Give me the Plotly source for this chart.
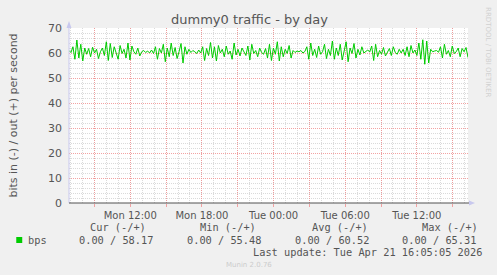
import pandas as pd
import plotly.graph_objects as go

# ---- data ----
bps_out = [
    61.0, 60.2, 62.5, 57.5, 65.2, 58.0, 63.5, 56.8, 62.0, 59.5, 61.8, 58.5, 62.3, 60.0, 61.5, 57.8, 60.5,
    62.0, 59.0, 64.5, 57.0, 63.8, 58.2, 62.5, 60.0, 57.5, 63.0, 59.8, 61.5, 58.0, 64.0, 57.2, 62.8, 60.5,
    59.5, 62.0, 58.8, 60.5, 61.0, 60.2, 60.8, 60.0, 61.2, 59.8, 62.5, 57.5, 61.8, 60.0, 63.5, 56.5, 62.0,
    58.5, 64.0, 59.0, 62.2, 57.8, 60.5, 63.8, 56.0, 62.5, 59.5, 61.5, 60.2, 61.0, 60.5, 59.8, 61.2, 60.0,
    62.5, 57.0, 61.8, 59.0, 64.2, 58.0, 62.5, 56.8, 63.0, 60.0, 61.5, 58.5, 62.8, 59.5, 60.8, 57.5, 64.0,
    59.2, 61.5, 58.8, 62.0, 60.5, 59.0, 62.8, 57.2, 63.5, 59.8, 61.0, 58.5, 62.0, 60.2, 59.5, 61.8, 58.0,
    63.5, 57.0, 62.0, 59.5, 64.5, 56.8, 62.5, 58.5, 61.5, 59.8, 63.0, 58.0, 61.0, 60.2, 60.8, 60.5, 61.0,
    60.0, 60.6, 62.5, 57.5, 64.0, 59.0, 61.5, 58.2, 62.8, 59.5, 60.5, 63.5, 57.8, 61.5, 59.0, 64.8, 57.5,
    62.0, 59.0, 63.5, 57.2, 61.5, 64.5, 56.5, 62.0, 59.8, 63.8, 58.0, 61.5, 59.2, 62.5, 60.0, 60.8, 61.2,
    60.4, 62.8, 57.0, 63.5, 58.5, 61.0, 59.5, 62.2, 58.8, 60.5, 61.8, 59.0, 62.5, 60.2, 59.5, 61.5, 60.0,
    61.5, 59.0, 62.5, 58.5, 63.0, 60.0, 61.2, 59.0, 64.0, 57.5, 65.3, 55.5, 64.8, 56.0, 61.5, 60.5, 60.8,
    61.0, 60.3, 62.5, 58.0, 63.5, 59.5, 61.0, 58.5, 62.8, 59.8, 60.5, 62.0, 58.5, 61.8, 60.5, 62.2, 58.2,
]
range_start = "2026-04-20 06:52"
range_end = "2026-04-21 16:17"
times = pd.date_range(range_start, range_end, periods=len(bps_out))

tick_times = pd.date_range("2026-04-20 09:00", "2026-04-21 15:00", freq="3h")
tick_labels = ["" if t.hour % 6 else t.strftime("%a %H:%M") for t in tick_times]

legend_cols = ["Cur (-/+)", "Min (-/+)", "Avg (-/+)", "Max (-/+)"]
legend_vals = ["0.00 / 58.17", "0.00 / 55.48", "0.00 / 60.52", "0.00 / 65.31"]
header_left = [86, 197, 309, 420]
value_left = [75, 184, 292, 400]
title = "dummy0 traffic - by day"
ylabel = "bits in (-) / out (+) per second"
last_update = "Last update: Tue Apr 21 16:05:05 2026"

# ---- layout geometry ----
W, H = 497, 275
L, R, T, B = 67, 468, 28, 203
def px(x):
    return (x - L) / (R - L)
def py(y):
    return (B - y) / (B - T)

TXT = "#555555"
MAJ = "rgba(240,140,140,0.8)"
MIN = "#DADADA"
fig = go.Figure()
fig.add_trace(go.Scatter(x=times, y=bps_out, mode="lines",
                         line=dict(color="#00CC00", width=1), hoverinfo="skip"))

fig.update_layout(
    width=W, height=H,
    margin=dict(l=L, r=W - R, t=T, b=H - B, pad=0),
    paper_bgcolor="#F0F0F0", plot_bgcolor="#FFFFFF",
    showlegend=False,
    font=dict(family="DejaVu Sans", color=TXT, size=10),
)
fig.update_xaxes(
    type="date", range=[range_start, range_end],
    tickmode="array", tickvals=tick_times, ticktext=tick_labels,
    showgrid=True, gridcolor=MAJ, griddash="1px,1px", gridwidth=1,
    ticks="outside", ticklen=3, tickcolor=MAJ,
    tickfont=dict(size=10, color=TXT),
    minor=dict(dtick=3600000, tick0="2026-04-20 00:00", showgrid=True,
               gridcolor=MIN, griddash="1px,1px", gridwidth=1),
    showline=False, zeroline=False,
)
fig.update_yaxes(
    range=[0, 70], dtick=10, tick0=0,
    showgrid=True, gridcolor=MAJ, griddash="1px,1px", gridwidth=1,
    minor=dict(dtick=2, showgrid=True, gridcolor=MIN, griddash="1px,1px", gridwidth=1),
    tickfont=dict(size=11, color=TXT), ticks="", ticklabelstandoff=6,
    showline=False, zeroline=False,
    title=dict(text=ylabel, font=dict(size=11, color=TXT), standoff=28),
)

# axis lines and arrows
fig.add_shape(type="line", xref="paper", yref="paper", x0=0, x1=0, y0=0, y1=py(24),
              line=dict(color="#C8C8EE", width=1))
fig.add_shape(type="path", xref="paper", yref="paper",
              path=f"M {px(64.5)} {py(28)} L {px(69.5)} {py(28)} L {px(67)} {py(21)} Z",
              fillcolor="#C8C8EE", line=dict(width=0))
fig.add_shape(type="line", xref="paper", yref="paper", x0=0, x1=px(469), y0=0, y1=0,
              line=dict(color="#505050", width=1))
fig.add_shape(type="path", xref="paper", yref="paper",
              path=f"M {px(469)} {py(200.5)} L {px(469)} {py(205.5)} L {px(475)} {py(203)} Z",
              fillcolor="#C8C8EE", line=dict(width=0))

# title
fig.add_annotation(text=title, xref="paper", yref="paper", x=px(248), y=py(19),
                   xanchor="center", yanchor="middle", showarrow=False,
                   font=dict(size=13, color=TXT))
# side text
fig.add_annotation(text="RRDTOOL / TOBI OETIKER", xref="paper", yref="paper",
                   x=px(488), y=py(5), xanchor="center", yanchor="top", textangle=90,
                   showarrow=False, font=dict(size=7, color="#D0D0D0"))

MONO = "DejaVu Sans Mono"
# legend
fig.add_shape(type="rect", xref="paper", yref="paper",
              x0=px(14), x1=px(20), y0=py(243), y1=py(237),
              fillcolor="#00CC00", line=dict(width=0))
fig.add_annotation(text="bps", xref="paper", yref="paper", x=px(24), y=py(239.5),
                   xanchor="left", yanchor="middle", showarrow=False,
                   font=dict(family=MONO, size=10.3, color=TXT))
for name, val, hx, vx in zip(legend_cols, legend_vals, header_left, value_left):
    fig.add_annotation(text=name, xref="paper", yref="paper", x=px(hx), y=py(227),
                       xanchor="left", yanchor="middle", showarrow=False,
                       font=dict(family=MONO, size=10.3, color=TXT))
    fig.add_annotation(text=val, xref="paper", yref="paper", x=px(vx), y=py(239.5),
                       xanchor="left", yanchor="middle", showarrow=False,
                       font=dict(family=MONO, size=10.3, color=TXT))
fig.add_annotation(text=last_update, xref="paper", yref="paper", x=px(484), y=py(252),
                   xanchor="right", yanchor="middle", showarrow=False,
                   font=dict(family=MONO, size=10.3, color=TXT))
fig.add_annotation(text="Munin 2.0.76", xref="paper", yref="paper", x=px(248), y=py(264.5),
                   xanchor="center", yanchor="middle", showarrow=False,
                   font=dict(size=7, color="#CCCCCC"))

fig.write_html("out.html")
